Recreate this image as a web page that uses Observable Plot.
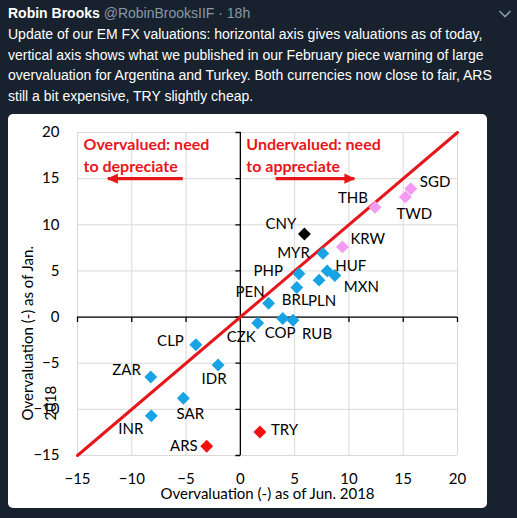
<!DOCTYPE html>
<html><head><meta charset="utf-8">
<script src="https://cdn.jsdelivr.net/npm/d3@7"></script>
<script src="https://cdn.jsdelivr.net/npm/@observablehq/plot@0.6"></script>
<style>
html,body{margin:0;padding:0;background:#17222e;width:517px;height:518px;overflow:hidden;}
#hdr{position:absolute;left:8px;top:3px;font:bold 14px "Liberation Sans",Arial,sans-serif;color:#fff;line-height:20px;white-space:nowrap}
#hdr span{font-weight:normal;color:#8899a6}
#tweet{position:absolute;left:8px;top:24px;font:14px "Liberation Sans",Arial,sans-serif;color:#fff;line-height:20.5px;white-space:nowrap}
#card{position:absolute;left:8px;top:114px;width:479px;height:394px;background:#fff;border-radius:5px;overflow:hidden}
#chev{position:absolute;left:0;top:0}
</style></head>
<body>
<div id="hdr">Robin Brooks <span>@RobinBrooksIIF · 18h</span></div>
<svg id="chev" width="517" height="30"><polyline points="499.5,11 505,16.5 510.5,11" fill="none" stroke="#8899a6" stroke-width="1.6"/></svg>
<div id="tweet">Update of our EM FX valuations: horizontal axis gives valuations as of today,<br>vertical axis shows what we published in our February piece warning of large<br>overvaluation for Argentina and Turkey. Both currencies now close to fair, ARS<br>still a bit expensive, TRY slightly cheap.</div>
<div id="card"></div>
<script>
// ---- data ----
const currencies = ["SGD","TWD","THB","KRW","CNY","MYR","HUF","MXN","PHP","PLN","BRL","PEN","COP","RUB","CZK","CLP","IDR","ZAR","SAR","INR","ARS","TRY"];
const valJun2018 = [15.7, 15.2, 12.4, 9.4, 5.9, 7.6, 8.0, 8.7, 5.4, 7.25, 5.2, 2.6, 3.9, 4.85, 1.6, -4.1, -2.05, -8.25, -5.25, -8.2, -3.1, 1.8];
const valJan2018 = [13.9, 13.0, 11.9, 7.6, 9.0, 6.9, 5.0, 4.5, 4.7, 4.0, 3.2, 1.5, -0.15, -0.35, -0.65, -3.0, -5.2, -6.5, -8.8, -10.7, -14.0, -12.45];
const group = ["Asia","Asia","Asia","Asia","China","Other","Other","Other","Other","Other","Other","Other","Other","Other","Other","Other","Other","Other","Other","Other","Focus","Focus"];
const groupNames = ["Asia","China","Other","Focus"];
const xTicks = [-15,-10,-5,0,5,10,15,20];
const yTicks = [-15,-10,-5,0,5,10,15,20];
const xLabel = "Overvaluation (-) as of Jun. 2018";
const yLabel = "Overvaluation (-) as of Jan.\n2018";
const annoText = ["Overvalued: need\nto depreciate", "Undervalued: need\nto appreciate"];
const annoX = [-15, 0];
const annoY = [20, 20];
const arrowFrom = [-5.3, 3.25];
const arrowTo = [-12.2, 10.5];
const arrowY = [15, 15];

// ---- layout / style ----
const groupColors = ["#f59af3","#000000","#18a3e4","#f50f0f"];
const RED = "#e8161b";
const labelLayout = {
  SGD:[9,-7,"start"], TWD:[9,17,"middle"], THB:[-7,-9,"end"], KRW:[8,-8,"start"],
  CNY:[-8,-10,"end"], MYR:[-13,0,"end"], HUF:[8,-5,"start"], MXN:[9,12,"start"],
  PHP:[-16,-3,"end"], PLN:[-11,21,"start"], BRL:[-15,13,"start"], PEN:[-4,-11,"end"],
  COP:[-2.5,15,"middle"], RUB:[9,13.5,"start"], CZK:[-2,14,"end"], CLP:[-12,-4,"end"],
  IDR:[-4,14,"middle"], ZAR:[-10,-7,"end"], SAR:[7,16,"middle"], INR:[-8,13,"end"],
  ARS:[-9,0,"end"], TRY:[11,-1.5,"start"]
};

const data = currencies.map((c, i) => ({name: c, x: valJun2018[i], y: valJan2018[i], group: group[i]}));
const annos = annoText.map((t, i) => ({text: t, x: annoX[i], y: annoY[i]}));
const arrows = arrowFrom.map((f, i) => ({x1: f, x2: arrowTo[i], y: arrowY[i], rot: arrowTo[i] > f ? 0 : 180}));
const diag = [xTicks[0], xTicks[xTicks.length - 1]].map(v => ({x: v, y: v}));

const tickDown = {draw(ctx) { ctx.moveTo(0, 0); ctx.lineTo(0, 5); }};
const tickLeft = {draw(ctx) { ctx.moveTo(0, 0); ctx.lineTo(-5, 0); }};
const arrowHead = {draw(ctx) { ctx.moveTo(1, 0); ctx.lineTo(-10, -5.2); ctx.lineTo(-10, 5.2); ctx.closePath(); }};

const chart = Plot.plot({
  width: 479, height: 394,
  marginLeft: 69, marginRight: 30, marginTop: 18, marginBottom: 53,
  x: {domain: [-15, 20], label: null},
  y: {domain: [-15, 20], label: null},
  color: {domain: groupNames, range: groupColors},
  style: {fontFamily: "Lato, 'Open Sans', sans-serif", fontSize: "15px", background: "transparent", color: "#000", overflow: "visible"},
  marks: [
    Plot.ruleX(xTicks, {stroke: "#d9d9d9", strokeWidth: 1}),
    Plot.ruleY(yTicks, {stroke: "#d9d9d9", strokeWidth: 1}),
    Plot.ruleX([0], {stroke: "#000", strokeWidth: 1.3}),
    Plot.ruleY([0], {stroke: "#000", strokeWidth: 1.3}),
    Plot.dot(xTicks, {x: d => d, y: () => 0, symbol: tickDown, stroke: "#000", fill: "none", strokeWidth: 1.3}),
    Plot.dot(yTicks, {x: () => 0, y: d => d, symbol: tickLeft, stroke: "#000", fill: "none", strokeWidth: 1.3}),
    Plot.axisX({ticks: xTicks, anchor: "bottom", tickSize: 0, tickPadding: 18, label: null, fill: "#000"}),
    Plot.axisY({ticks: yTicks, anchor: "left", tickSize: 0, tickPadding: 18, label: null, fill: "#000"}),
    Plot.text([xLabel], {text: d => d, frameAnchor: "bottom", dy: 39, lineAnchor: "middle", fill: "#000"}),
    Plot.text([yLabel], {text: d => d, frameAnchor: "bottom-left", dx: -40.5, dy: -35, rotate: -90, textAnchor: "start", lineAnchor: "middle", lineHeight: 1.53, fill: "#000"}),
    Plot.line(diag, {x: "x", y: "y", stroke: RED, strokeWidth: 3}),
    Plot.link(arrows, {x1: "x1", x2: "x2", y1: "y", y2: "y", stroke: RED, strokeWidth: 3.2}),
    Plot.dot(arrows, {x: "x2", y: "y", rotate: "rot", symbol: arrowHead, fill: RED, stroke: "none"}),
    Plot.dot(data, {x: "x", y: "y", fill: "group", symbol: "diamond2", r: 5.8}),
    ...data.map(d => {
      const [dx, dy, anchor] = labelLayout[d.name];
      return Plot.text([d], {x: "x", y: "y", text: "name", dx, dy, textAnchor: anchor, lineAnchor: "middle", fill: "#000"});
    }),
    Plot.text(annos, {x: "x", y: "y", text: "text", dx: 6, dy: 2.3, textAnchor: "start", lineAnchor: "top", lineHeight: 1.375, fill: RED, fontWeight: "bold", fontSize: 16})
  ]
});
document.getElementById("card").appendChild(chart);
</script>
</body></html>
